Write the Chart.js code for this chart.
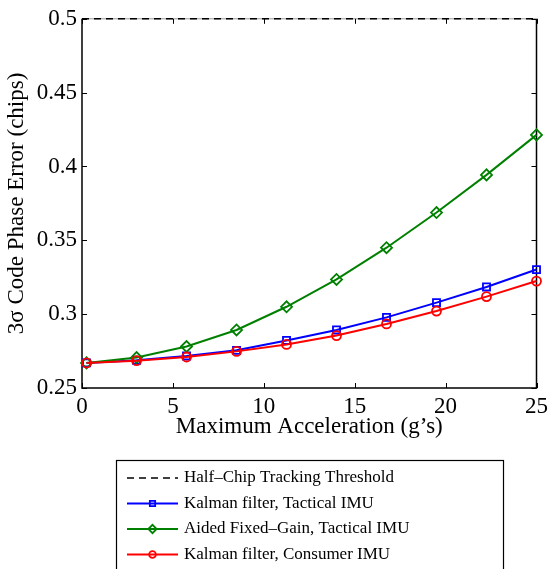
<!DOCTYPE html>
<html>
<head>
<meta charset="utf-8">
<title>Code Phase Error vs Acceleration</title>
<script src="https://cdn.jsdelivr.net/npm/chart.js@4.4.1/dist/chart.umd.min.js"></script>
<style>
  html, body { margin: 0; padding: 0; background: #fff; }
  #wrap { width: 553px; height: 569px; }
</style>
</head>
<body>
<div id="wrap"><canvas id="errChart" width="553" height="569"></canvas></div>
<script>
// --- DATA ---
const accel = [0.25, 3, 5.75, 8.5, 11.25, 14, 16.75, 19.5, 22.25, 25];
const kalmanTactical = [0.267, 0.2688, 0.2717, 0.2755, 0.2822, 0.2893, 0.2978, 0.3078, 0.3184, 0.3302];
const fixedGainTactical = [0.267, 0.2706, 0.2781, 0.2893, 0.305, 0.3235, 0.345, 0.3688, 0.3943, 0.4214];
const kalmanConsumer = [0.267, 0.2685, 0.271, 0.2748, 0.2795, 0.2855, 0.2934, 0.3021, 0.3119, 0.3224];
const thresholdX = [0, 25];
const thresholdY = [0.5, 0.5];

const xTicks = [0, 5, 10, 15, 20, 25];
const xTickLabels = ['0', '5', '10', '15', '20', '25'];
const yTicks = [0.25, 0.3, 0.35, 0.4, 0.45, 0.5];
const yTickLabels = ['0.25', '0.3', '0.35', '0.4', '0.45', '0.5'];

const seriesNames = [
    'Half\u2013Chip Tracking Threshold',
    'Kalman filter, Tactical IMU',
    'Aided Fixed\u2013Gain, Tactical IMU',
    'Kalman filter, Consumer IMU'
];

// --- STYLE ---
const serif = '"Liberation Serif", "Times New Roman", serif';
const colors = { black: '#000000', blue: '#0000ff', green: '#008000', red: '#ff0000' };

const toPoints = (xs, ys) => xs.map((x, i) => ({ x: x, y: ys[i] }));

// Box round the plot area with inward ticks on all four sides
const framePlugin = {
    id: 'frame',
    beforeDatasetsDraw(chart) {
        const { ctx, chartArea: a, scales: { x, y } } = chart;
        const len = 5;
        ctx.save();
        ctx.strokeStyle = '#000';
        ctx.lineWidth = 1.5;
        ctx.beginPath();
        ctx.moveTo(a.left, a.top);
        ctx.lineTo(a.left, a.bottom);
        ctx.lineTo(a.right, a.bottom);
        ctx.lineTo(a.right, a.top);
        ctx.stroke();
        // top edge sits under the dashed threshold line
        ctx.strokeStyle = '#999';
        ctx.lineWidth = 1;
        ctx.beginPath();
        ctx.moveTo(a.left, a.top);
        ctx.lineTo(a.right, a.top);
        ctx.stroke();
        ctx.strokeStyle = '#000';
        ctx.beginPath();
        x.ticks.forEach(t => {
            const px = Math.round(x.getPixelForValue(t.value)) + 0.5;
            ctx.moveTo(px, a.bottom); ctx.lineTo(px, a.bottom - len);
            ctx.moveTo(px, a.top); ctx.lineTo(px, a.top + len);
        });
        y.ticks.forEach(t => {
            const py = Math.round(y.getPixelForValue(t.value)) + 0.5;
            ctx.moveTo(a.left, py); ctx.lineTo(a.left + len, py);
            ctx.moveTo(a.right, py); ctx.lineTo(a.right - len, py);
        });
        ctx.stroke();
        ctx.restore();
    }
};

// Boxed legend under the axes, built from the datasets
const boxLegend = {
    id: 'boxLegend',
    afterDraw(chart) {
        const ctx = chart.ctx;
        const box = { left: 116.5, top: 460.5, width: 387, height: 130 };
        const rowY = [478, 503.5, 529, 554.5];
        const lineX0 = 127, lineX1 = 178, textX = 184;
        ctx.save();
        ctx.strokeStyle = '#000';
        ctx.lineWidth = 1.2;
        ctx.strokeRect(box.left, box.top, box.width, box.height);
        chart.data.datasets.forEach((ds, i) => {
            const yy = rowY[i];
            ctx.strokeStyle = ds.borderColor;
            ctx.lineWidth = ds.borderWidth;
            ctx.setLineDash(ds.borderDash || []);
            ctx.beginPath();
            ctx.moveTo(lineX0, yy);
            ctx.lineTo(lineX1, yy);
            ctx.stroke();
            ctx.setLineDash([]);
            if (ds.pointRadius > 0) {
                ctx.fillStyle = 'rgba(0,0,0,0)';
                ctx.strokeStyle = ds.pointBorderColor;
                ctx.lineWidth = ds.pointBorderWidth;
                Chart.helpers.drawPoint(ctx, {
                    pointStyle: ds.pointStyle,
                    radius: ds.pointRadius * 0.75,
                    rotation: 0,
                    borderWidth: ds.pointBorderWidth
                }, (lineX0 + lineX1) / 2, yy);
            }
            ctx.fillStyle = '#000';
            ctx.font = '17px ' + serif;
            ctx.textBaseline = 'middle';
            ctx.textAlign = 'left';
            ctx.fillText(ds.label, textX, yy);
        });
        ctx.restore();
    }
};

const lineSet = (label, data, color, style, radius, order) => ({
    label: label,
    data: data,
    borderColor: color,
    borderWidth: 2,
    pointStyle: style,
    pointRadius: radius,
    pointBorderColor: color,
    pointBackgroundColor: 'rgba(0,0,0,0)',
    pointBorderWidth: 1.8,
    tension: 0,
    clip: false,
    order: order
});

const chart = new Chart(document.getElementById('errChart'), {
    type: 'line',
    data: {
        datasets: [
            {
                label: seriesNames[0],
                data: toPoints(thresholdX, thresholdY),
                borderColor: colors.black,
                borderWidth: 1.5,
                borderDash: [7, 5],
                pointRadius: 0,
                clip: false,
                order: 0
            },
            lineSet(seriesNames[1], toPoints(accel, kalmanTactical), colors.blue, 'rect', 5, 3),
            lineSet(seriesNames[2], toPoints(accel, fixedGainTactical), colors.green, 'rectRot', 5.5, 2),
            lineSet(seriesNames[3], toPoints(accel, kalmanConsumer), colors.red, 'circle', 4.5, 1)
        ]
    },
    options: {
        responsive: false,
        animation: false,
        devicePixelRatio: 1,
        layout: { padding: { top: 15, right: 11, bottom: 121, left: 0 } },
        plugins: {
            legend: { display: false },
            tooltip: { enabled: false }
        },
        scales: {
            x: {
                type: 'linear',
                min: 0,
                max: 25,
                afterBuildTicks: (scale) => { scale.ticks = xTicks.map(v => ({ value: v })); },
                afterFit: (scale) => { scale.height = 60; },
                grid: { display: false, drawTicks: false },
                border: { display: false },
                ticks: {
                    color: '#000',
                    padding: 5,
                    maxRotation: 0,
                    autoSkip: false,
                    font: { family: serif, size: 23 },
                    callback: (v, i) => xTickLabels[i]
                },
                title: {
                    display: true,
                    text: 'Maximum Acceleration (g\u2019s)',
                    color: '#000',
                    font: { family: serif, size: 23 },
                    padding: { top: 0, bottom: 7 }
                }
            },
            y: {
                type: 'linear',
                min: 0.25,
                max: 0.5,
                afterBuildTicks: (scale) => { scale.ticks = yTicks.map(v => ({ value: v })); },
                afterFit: (scale) => { scale.width = 82; },
                grid: { display: false, drawTicks: false },
                border: { display: false },
                ticks: {
                    color: '#000',
                    padding: 5,
                    autoSkip: false,
                    font: { family: serif, size: 23 },
                    callback: (v, i) => yTickLabels[i]
                },
                title: {
                    display: true,
                    text: '3\u03c3 Code Phase Error (chips)',
                    color: '#000',
                    font: { family: serif, size: 23 },
                    padding: { top: 3, bottom: 0 }
                }
            }
        }
    },
    plugins: [framePlugin, boxLegend]
});
</script>
</body>
</html>
